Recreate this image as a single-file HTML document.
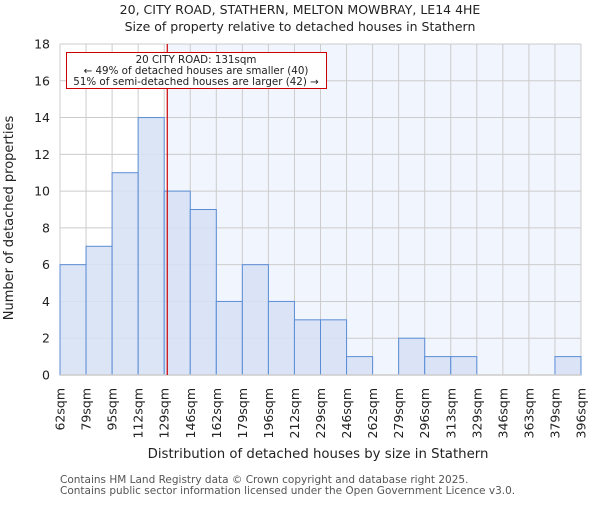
<!DOCTYPE html>
<html><head><meta charset="utf-8"><style>
body{margin:0;background:#fff;}
svg text{font-family:"DejaVu Sans","Liberation Sans",sans-serif;}
</style></head><body>
<svg id="chart" width="600" height="500" xmlns="http://www.w3.org/2000/svg">
<text x="300" y="14" text-anchor="middle" font-size="12.5" fill="#222">20, CITY ROAD, STATHERN, MELTON MOWBRAY, LE14 4HE</text>
<text x="300" y="31" text-anchor="middle" font-size="12.5" fill="#222">Size of property relative to detached houses in Stathern</text>
<rect id="bgR" fill="#f1f5fd"/>
<g id="grid"></g>
<g id="bars"></g>
<g id="axes"></g>
<line id="marker" stroke="#cc0000" stroke-width="1.2"/>
<rect x="66.5" y="52.5" width="260" height="36" fill="#fff" stroke="#cc0000" stroke-width="1"/>
<text x="196" y="63" text-anchor="middle" font-size="10.3" fill="#222">20 CITY ROAD: 131sqm</text>
<text x="196" y="74" text-anchor="middle" font-size="10.3" fill="#222">← 49% of detached houses are smaller (40)</text>
<text x="196" y="85" text-anchor="middle" font-size="10.3" fill="#222">51% of semi-detached houses are larger (42) →</text>
<text x="318" y="458" text-anchor="middle" font-size="13.3" fill="#222">Distribution of detached houses by size in Stathern</text>
<text transform="translate(13,218) rotate(-90)" text-anchor="middle" font-size="13" fill="#222">Number of detached properties</text>
<text x="60" y="483" font-size="10.5" fill="#555">Contains HM Land Registry data © Crown copyright and database right 2025.</text>
<text x="60" y="494" font-size="10.5" fill="#555">Contains public sector information licensed under the Open Government Licence v3.0.</text>
</svg>
<script>
const edges=[62,79,95,112,129,146,162,179,196,212,229,246,262,279,296,313,329,346,363,379,396];
const counts=[6,7,11,14,10,9,4,6,4,3,3,1,0,2,1,1,0,0,0,1];
const yTicks=[0,2,4,6,8,10,12,14,16,18];
const propertySize=131;
const NS="http://www.w3.org/2000/svg";
const L=60,R=581,T=44,B=375,yMax=18;
const n=counts.length;
function xb(i){return L+(R-L)*i/n;}
function xv(v){let i=0;while(i<n-1&&v>edges[i+1])i++;return xb(i)+(v-edges[i])/(edges[i+1]-edges[i])*(xb(i+1)-xb(i));}
function y(v){return B-(B-T)*v/yMax;}
function mk(tag,attrs,parent){const e=document.createElementNS(NS,tag);for(const k in attrs)e.setAttribute(k,attrs[k]);parent.appendChild(e);return e;}
const mx=xv(propertySize);
const bg=document.getElementById('bgR');
bg.setAttribute('x',mx);bg.setAttribute('y',T);bg.setAttribute('width',R-mx);bg.setAttribute('height',B-T);
const grid=document.getElementById('grid'),bars=document.getElementById('bars'),axes=document.getElementById('axes');
yTicks.forEach(t=>{
 const l=mk('line',{x1:L,x2:R,y1:y(t),y2:y(t),stroke:'#cccccc','stroke-width':1},grid);
 
 
 const tx=mk('text',{x:L-10,y:y(t)+4.5,'text-anchor':'end','font-size':12.5,fill:'#222'},axes);
 tx.textContent=t;
 
 
});
edges.forEach((e,i)=>{
 const l=mk('line',{x1:xb(i),x2:xb(i),y1:T,y2:B,stroke:'#cccccc','stroke-width':1},grid);
 
 
 const tx=mk('text',{transform:`translate(${xb(i)+4.5},388) rotate(-90)`,'text-anchor':'end','font-size':12.5,fill:'#222'},axes);
 tx.textContent=e+'sqm';
 
 
});
counts.forEach((c,i)=>{
 if(c<=0)return;
 const r=mk('rect',{x:xb(i),y:y(c),width:xb(i+1)-xb(i),height:B-y(c),fill:'#d6e1f4','fill-opacity':0.85,stroke:'#5b8dd6','stroke-width':1},bars);
 
 
});
const ax=mk('line',{x1:L,x2:R,y1:B,y2:B,stroke:'#cccccc','stroke-width':1.5},axes);


const m=document.getElementById('marker');
m.setAttribute('x1',mx);m.setAttribute('x2',mx);m.setAttribute('y1',T);m.setAttribute('y2',B);
</script>
</body></html>
